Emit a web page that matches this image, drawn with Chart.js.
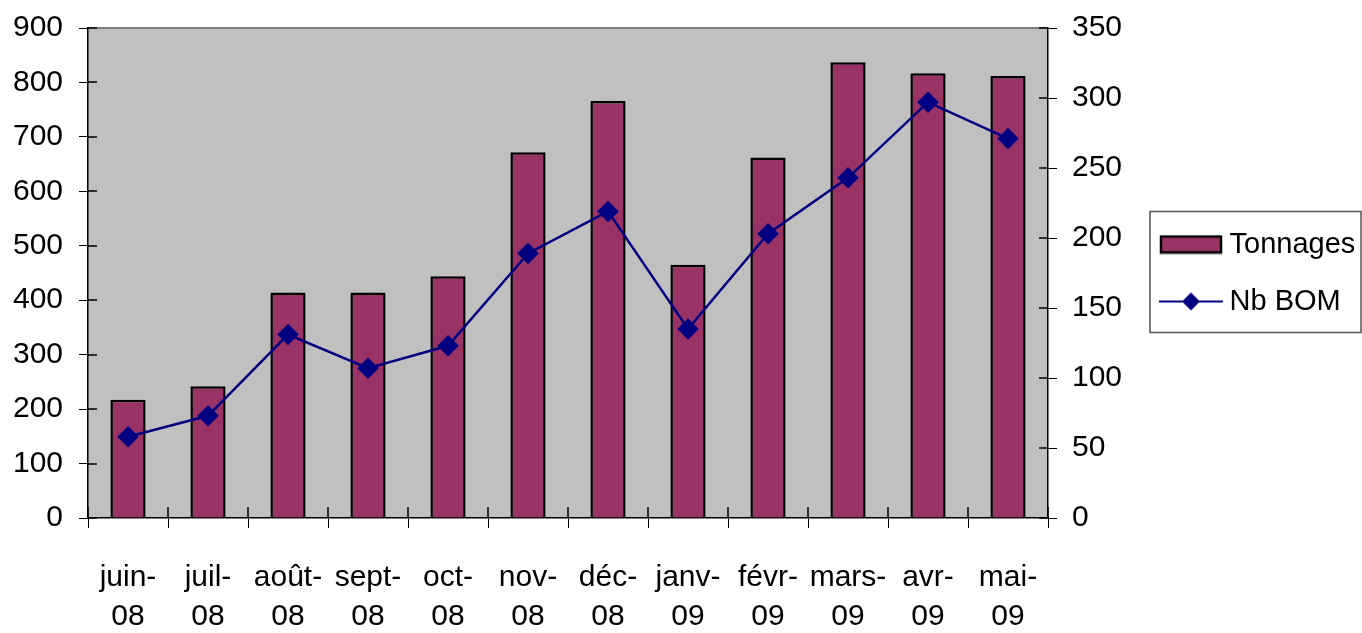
<!DOCTYPE html>
<html><head><meta charset="utf-8">
<script src="https://cdn.jsdelivr.net/npm/chart.js@4"></script>
<style>html,body{margin:0;padding:0;background:#fff}#wrap{width:1362px;height:633px}</style>
</head><body><div id="wrap"><canvas id="c" width="1362" height="633"></canvas></div>
<script>
const categories = ['juin-08','juil-08','août-08','sept-08','oct-08','nov-08','déc-08','janv-09','févr-09','mars-09','avr-09','mai-09'];
const tonnages = [217, 242, 414, 414, 444, 672, 766, 465, 662, 837, 817, 812];
const nbBom = [58, 73, 131, 107, 123, 189, 219, 135, 203, 243, 297, 271];
const seriesNames = ['Tonnages', 'Nb BOM'];

const FONT = "'Liberation Sans', Arial, sans-serif";
const FS = 30;

function makeSwatch(type){
  const c = document.createElement('canvas'); c.width = 64; c.height = 20;
  const g = c.getContext('2d');
  if (type === 'bar') {
    g.fillStyle = '#993366'; g.fillRect(2, 2, 60, 16);
    g.strokeStyle = '#000'; g.lineWidth = 2.5; g.strokeRect(2, 2, 60, 16);
  } else {
    g.strokeStyle = '#000080'; g.lineWidth = 2;
    g.beginPath(); g.moveTo(0, 10); g.lineTo(64, 10); g.stroke();
    g.fillStyle = '#000080'; g.beginPath();
    g.moveTo(32, 1); g.lineTo(41, 10); g.lineTo(32, 19); g.lineTo(23, 10); g.closePath(); g.fill();
  }
  return c;
}
const swBar = makeSwatch('bar'), swLine = makeSwatch('line');

const bgPlugin = {
  id: 'bg',
  beforeDraw(chart){
    const {ctx, chartArea: a} = chart;
    ctx.save();
    ctx.fillStyle = '#c0c0c0';
    ctx.fillRect(a.left, a.top, a.right - a.left, a.bottom - a.top);
    ctx.strokeStyle = '#808080'; ctx.lineWidth = 2;
    ctx.beginPath(); ctx.moveTo(a.left, a.top); ctx.lineTo(a.right, a.top); ctx.stroke();
    ctx.restore();
  },
  afterDatasetsDraw(chart){
    // inner halves of the tick marks (ticks cross the axis lines)
    const {ctx, chartArea: a, scales} = chart;
    ctx.save(); ctx.strokeStyle = '#000'; ctx.lineWidth = 1.5; ctx.beginPath();
    const xs = scales.x, n = categories.length, half = (xs.getPixelForValue(1) - xs.getPixelForValue(0)) / 2;
    for (let i = 0; i <= n; i++) { const px = Math.round(xs.getPixelForValue(i) - half); ctx.moveTo(px, a.bottom); ctx.lineTo(px, a.bottom - 11); }
    scales.y.ticks.forEach(t => { const py = Math.round(scales.y.getPixelForValue(t.value)); ctx.moveTo(a.left, py); ctx.lineTo(a.left + 9, py); });
    scales.y1.ticks.forEach(t => { const py = Math.round(scales.y1.getPixelForValue(t.value)); ctx.moveTo(a.right, py); ctx.lineTo(a.right - 9, py); });
    ctx.stroke(); ctx.restore();
  }
};
const legendPlace = {
  id: 'legendPlace',
  afterLayout(chart){
    const L = chart.legend, a = chart.chartArea;
    const dy = (L.top + L.bottom) / 2 - 273;
    L.top -= dy; L.bottom -= dy;
    const pad = chart.options.plugins.legend.labels.padding;
    const w = L.right - L.left;
    L.left = a.right + 119 - pad; L.right = L.left + w;
  },
  afterDraw(chart){
    const hb = chart.legend.legendHitBoxes;
    if (!hb || !hb.length) return;
    const c0 = hb[0].top + hb[0].height / 2, c1 = hb[hb.length - 1].top + hb[hb.length - 1].height / 2;
    const l = hb[0].left - 17;
    const ctx = chart.ctx;
    ctx.save(); ctx.strokeStyle = '#555'; ctx.lineWidth = 1.5;
    ctx.strokeRect(l, c0 - 33, chart.width - l - 1, (c1 + 31) - (c0 - 33));
    ctx.restore();
  }
};

new Chart(document.getElementById('c'), {
  data: {
    labels: categories,
    datasets: [
      { type: 'bar', label: seriesNames[0], data: tonnages, yAxisID: 'y', order: 2,
        backgroundColor: '#993366', borderColor: '#000', borderWidth: 2.5,
        categoryPercentage: 1, barPercentage: 0.44 },
      { type: 'line', label: seriesNames[1], data: nbBom, yAxisID: 'y1', order: 1,
        borderColor: '#000080', borderWidth: 2.5, tension: 0,
        pointStyle: 'rectRot', pointRadius: 9, pointBackgroundColor: '#000080', pointBorderColor: '#000080' }
    ]
  },
  options: {
    responsive: false, animation: false,
    layout: { padding: 0 },
    plugins: {
      tooltip: { enabled: false },
      legend: {
        position: 'right',
        labels: {
          color: '#000', font: { family: FONT, size: 29 }, usePointStyle: true, pointStyleWidth: 48,
          padding: 28,
          generateLabels: () => [
            { text: seriesNames[0], pointStyle: swBar, datasetIndex: 0, fillStyle: '#993366', strokeStyle: '#000', lineWidth: 1, hidden: false, fontColor: '#000' },
            { text: seriesNames[1], pointStyle: swLine, datasetIndex: 1, fillStyle: '#000080', strokeStyle: '#000080', lineWidth: 1, hidden: false, fontColor: '#000' }
          ]
        }
      }
    },
    scales: {
      x: {
        afterFit: s => { s.height = 115; },
        grid: { offset: true, drawOnChartArea: false, drawTicks: true, tickLength: 10, color: '#000' },
        border: { display: true, color: '#000', width: 1.5 },
        ticks: { color: '#000', font: { family: FONT, size: FS, lineHeight: 1.3 }, padding: 30, maxRotation: 0, autoSkip: false,
          callback: function(v){ const s = this.getLabelForValue(v); const i = s.lastIndexOf('-'); return [s.slice(0, i + 1), s.slice(i + 1)]; } }
      },
      y: {
        position: 'left', min: 0, max: 900,
        afterFit: s => { s.width = 88; s.paddingTop = 28; },
        grid: { drawOnChartArea: false, drawTicks: true, tickLength: 9, color: '#000' },
        border: { display: true, color: '#000', width: 1.5 },
        ticks: { stepSize: 100, color: '#000', font: { family: FONT, size: FS }, padding: 16 }
      },
      y1: {
        position: 'right', min: 0, max: 350,
        afterFit: s => { s.width = s.chart.width - s.chart.legend.width - 1048; s.paddingTop = 28; },
        grid: { drawOnChartArea: false, drawTicks: true, tickLength: 9, color: '#000' },
        border: { display: true, color: '#000', width: 1.5 },
        ticks: { stepSize: 50, color: '#000', font: { family: FONT, size: FS }, padding: 15 }
      }
    }
  },
  plugins: [bgPlugin, legendPlace]
});
</script></body></html>
